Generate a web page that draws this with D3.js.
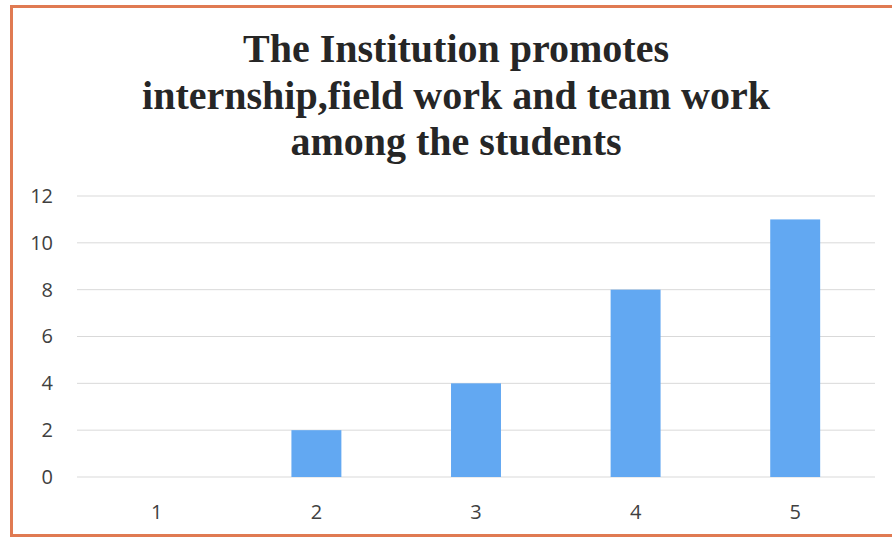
<!DOCTYPE html>
<html>
<head>
<meta charset="utf-8">
<script src="https://cdn.jsdelivr.net/npm/d3@7"></script>
<style>
  body { margin: 0; background: #fff; }
  svg { display: block; }
</style>
</head>
<body>
<script>
const categories = ["1", "2", "3", "4", "5"];
const values = [0, 2, 4, 8, 11];
const yTicks = [0, 2, 4, 6, 8, 10, 12];
const titleLines = ["The Institution promotes", "internship,field work and team work", "among the students"];

const W = 892, H = 539;
const margin = { top: 196, right: 17, bottom: 62, left: 77 };
const width = W - margin.left - margin.right;
const height = H - margin.top - margin.bottom;

const svg = d3.select("body").append("svg")
  .attr("width", W)
  .attr("height", H);

// orange frame (right side runs off the picture)
svg.append("path")
  .attr("d", `M${W},6.5 H11.5 V535.5 H${W}`)
  .attr("fill", "none")
  .attr("stroke", "#e07a52")
  .attr("stroke-width", 3);

const g = svg.append("g")
  .attr("transform", `translate(${margin.left},${margin.top})`);

const x = d3.scaleBand().domain(categories).range([0, width]).paddingInner(0.687).paddingOuter(0.3435);
const y = d3.scaleLinear().domain([0, 12]).range([height, 0]);

g.selectAll(".grid")
  .data(yTicks)
  .enter().append("line")
  .attr("class", "grid")
  .attr("x1", 0)
  .attr("x2", width)
  .attr("y1", d => y(d))
  .attr("y2", d => y(d))
  .attr("stroke", "#d9d9d9")
  .attr("stroke-width", 1);

g.selectAll(".bar")
  .data(values)
  .enter().append("rect")
  .attr("class", "bar")
  .attr("x", (d, i) => x(categories[i]))
  .attr("width", x.bandwidth())
  .attr("y", d => y(d))
  .attr("height", d => height - y(d))
  .attr("fill", "#62a8f2");

const yAxis = g.append("g")
  .call(d3.axisLeft(y).tickValues(yTicks).tickSize(0).tickPadding(24));
yAxis.select(".domain").remove();
yAxis.selectAll("text")
  .style("font-family", "'Open Sans', sans-serif")
  .style("font-size", "20px")
  .attr("fill", "#404040");

const xAxis = g.append("g")
  .attr("transform", `translate(0,${height})`)
  .call(d3.axisBottom(x).tickSize(0).tickPadding(28));
xAxis.select(".domain").remove();
xAxis.selectAll("text")
  .style("font-family", "'Open Sans', sans-serif")
  .style("font-size", "20px")
  .attr("fill", "#404040");

svg.append("text")
  .attr("text-anchor", "middle")
  .style("font-family", "'Liberation Serif', 'Times New Roman', serif")
  .style("font-weight", "bold")
  .style("font-size", "40px")
  .attr("fill", "#262626")
  .selectAll("tspan")
  .data(titleLines)
  .enter().append("tspan")
  .attr("x", 456)
  .attr("y", (d, i) => 62 + i * 46.5)
  .text(d => d);
</script>
</body>
</html>
